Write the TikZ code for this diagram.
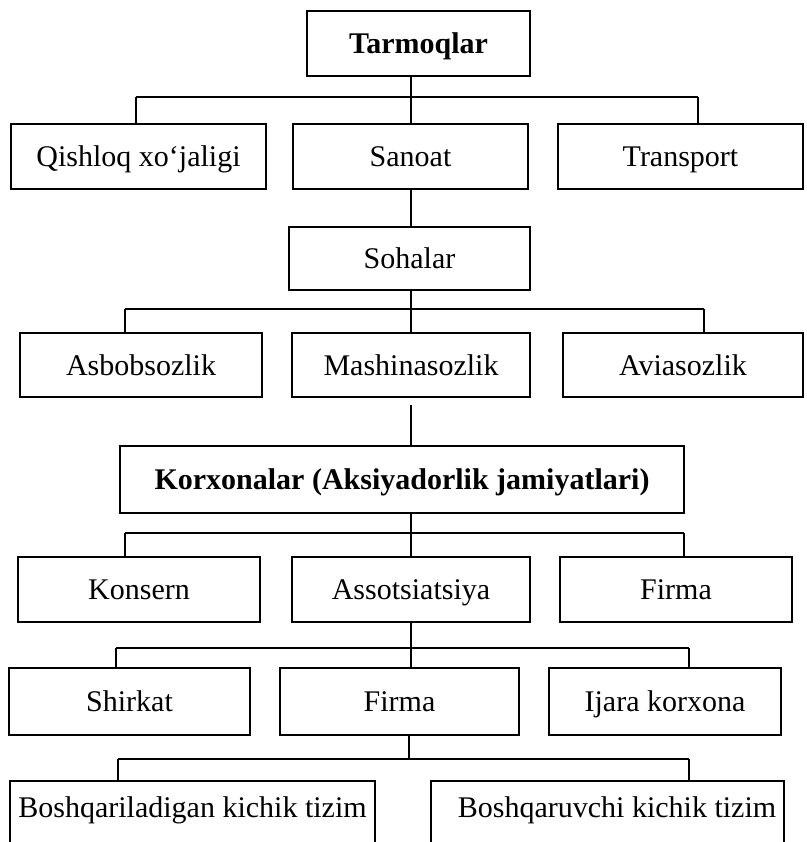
\documentclass[tikz,border=0pt]{standalone}
\usepackage{fontspec}
\setmainfont{Liberation Serif}
\begin{document}
\begin{tikzpicture}[x=1pt,y=-1pt,
  bx/.style={draw,line width=1.8pt,inner sep=0pt,font=\fontsize{30}{36}\selectfont,
    text height=20pt,text depth=0pt},
  bbx/.style={bx,font=\fontsize{30}{36}\selectfont\bfseries},
  ln/.style={line width=1.8pt}]
\clip (0,0) rectangle (806,842);
\fill[white] (0,0) rectangle (806,842);
% level 0
\node[bbx,minimum width=223pt,minimum height=65pt] (tarm) at (418.5,43.5) {Tarmoqlar};
% level 1
\node[bx,minimum width=255pt,minimum height=65pt] (qish) at (138.5,156.5) {Qishloq xo‘jaligi};
\node[bx,minimum width=235pt,minimum height=65pt] (sanoat) at (410.5,156.5) {Sanoat};
\node[bx,minimum width=245pt,minimum height=65pt] (transport) at (680.5,156.5) {Transport};
% sohalar
\node[bx,minimum width=241pt,minimum height=63pt] (sohalar) at (409.5,258.5) {Sohalar};
% level 2
\node[bx,minimum width=242pt,minimum height=64pt] (asbob) at (141,365) {Asbobsozlik};
\node[bx,minimum width=238pt,minimum height=64pt] (mashina) at (411,365) {Mashinasozlik};
\node[bx,minimum width=240pt,minimum height=64pt] (avia) at (683,365) {Aviasozlik};
% korxonalar
\node[bbx,minimum width=564pt,minimum height=67pt] (korx) at (402,479.5) {Korxonalar (Aksiyadorlik jamiyatlari)};
% level 3
\node[bx,minimum width=242pt,minimum height=65pt] (konsern) at (139,589.5) {Konsern};
\node[bx,minimum width=238pt,minimum height=65pt] (assots) at (411,589.5) {Assotsiatsiya};
\node[bx,minimum width=232pt,minimum height=65pt] (firma) at (676,589.5) {Firma};
% level 4
\node[bx,minimum width=241pt,minimum height=67pt] (shirkat) at (129.5,701.5) {Shirkat};
\node[bx,minimum width=239pt,minimum height=67pt] (firmab) at (399.5,701.5) {Firma};
\node[bx,minimum width=232pt,minimum height=67pt] (ijara) at (665,701.5) {Ijara korxona};
% level 5 (bottom edges lie outside the picture)
\node[draw,line width=1.8pt,inner sep=0pt,minimum width=365pt,minimum height=90pt] (boshA) at (192.5,826) {};
\node[font=\fontsize{30}{36}\selectfont,anchor=base] (tA) at (192.5,817) {Boshqariladigan kichik tizim};
\node[draw,line width=1.8pt,inner sep=0pt,minimum width=353pt,minimum height=90pt] (boshB) at (607.5,826) {};
\node[font=\fontsize{30}{36}\selectfont,anchor=base] (tB) at (617,817) {Boshqaruvchi kichik tizim};
% connectors level 0 -> 1
\coordinate (j1) at (411,97);
\coordinate (j1l) at (136,97);
\coordinate (j1r) at (698,97);
\draw[ln] (tarm.south -| j1) -- (j1);
\draw[ln] (j1l) -- (j1r);
\draw[ln] (j1l) -- (j1l |- qish.north);
\draw[ln] (j1) -- (j1 |- sanoat.north);
\draw[ln] (j1r) -- (j1r |- transport.north);
% sanoat -> sohalar
\draw[ln] (sanoat.south -| j1) -- (sohalar.north -| j1);
% sohalar -> level 2
\coordinate (j2) at (411,309);
\coordinate (j2l) at (125,309);
\coordinate (j2r) at (704,309);
\draw[ln] (sohalar.south -| j2) -- (j2);
\draw[ln] (j2l) -- (j2r);
\draw[ln] (j2l) -- (j2l |- asbob.north);
\draw[ln] (j2) -- (j2 |- mashina.north);
\draw[ln] (j2r) -- (j2r |- avia.north);
% mashina -> korxonalar (starts a little below the box)
\draw[ln] ([yshift=-7pt]mashina.south) -- (korx.north -| mashina.south);
% korxonalar -> level 3
\coordinate (j3) at (411,533);
\coordinate (j3l) at (125,533);
\coordinate (j3r) at (684,533);
\draw[ln] (korx.south -| j3) -- (j3);
\draw[ln] (j3l) -- (j3r);
\draw[ln] (j3l) -- (j3l |- konsern.north);
\draw[ln] (j3) -- (j3 |- assots.north);
\draw[ln] (j3r) -- (j3r |- firma.north);
% assots -> level 4
\coordinate (j4) at (411,648);
\coordinate (j4l) at (116,648);
\coordinate (j4r) at (689,648);
\draw[ln] (assots.south -| j4) -- (j4);
\draw[ln] (j4l) -- (j4r);
\draw[ln] (j4l) -- (j4l |- shirkat.north);
\draw[ln] (j4) -- (j4 |- firmab.north);
\draw[ln] (j4r) -- (j4r |- ijara.north);
% firma -> level 5
\coordinate (j5) at (409,759);
\coordinate (j5l) at (118,759);
\coordinate (j5r) at (689,759);
\draw[ln] (firmab.south -| j5) -- (j5);
\draw[ln] (j5l) -- (j5r);
\draw[ln] (j5l) -- (j5l |- boshA.north);
\draw[ln] (j5r) -- (j5r |- boshB.north);
\end{tikzpicture}
\end{document}
